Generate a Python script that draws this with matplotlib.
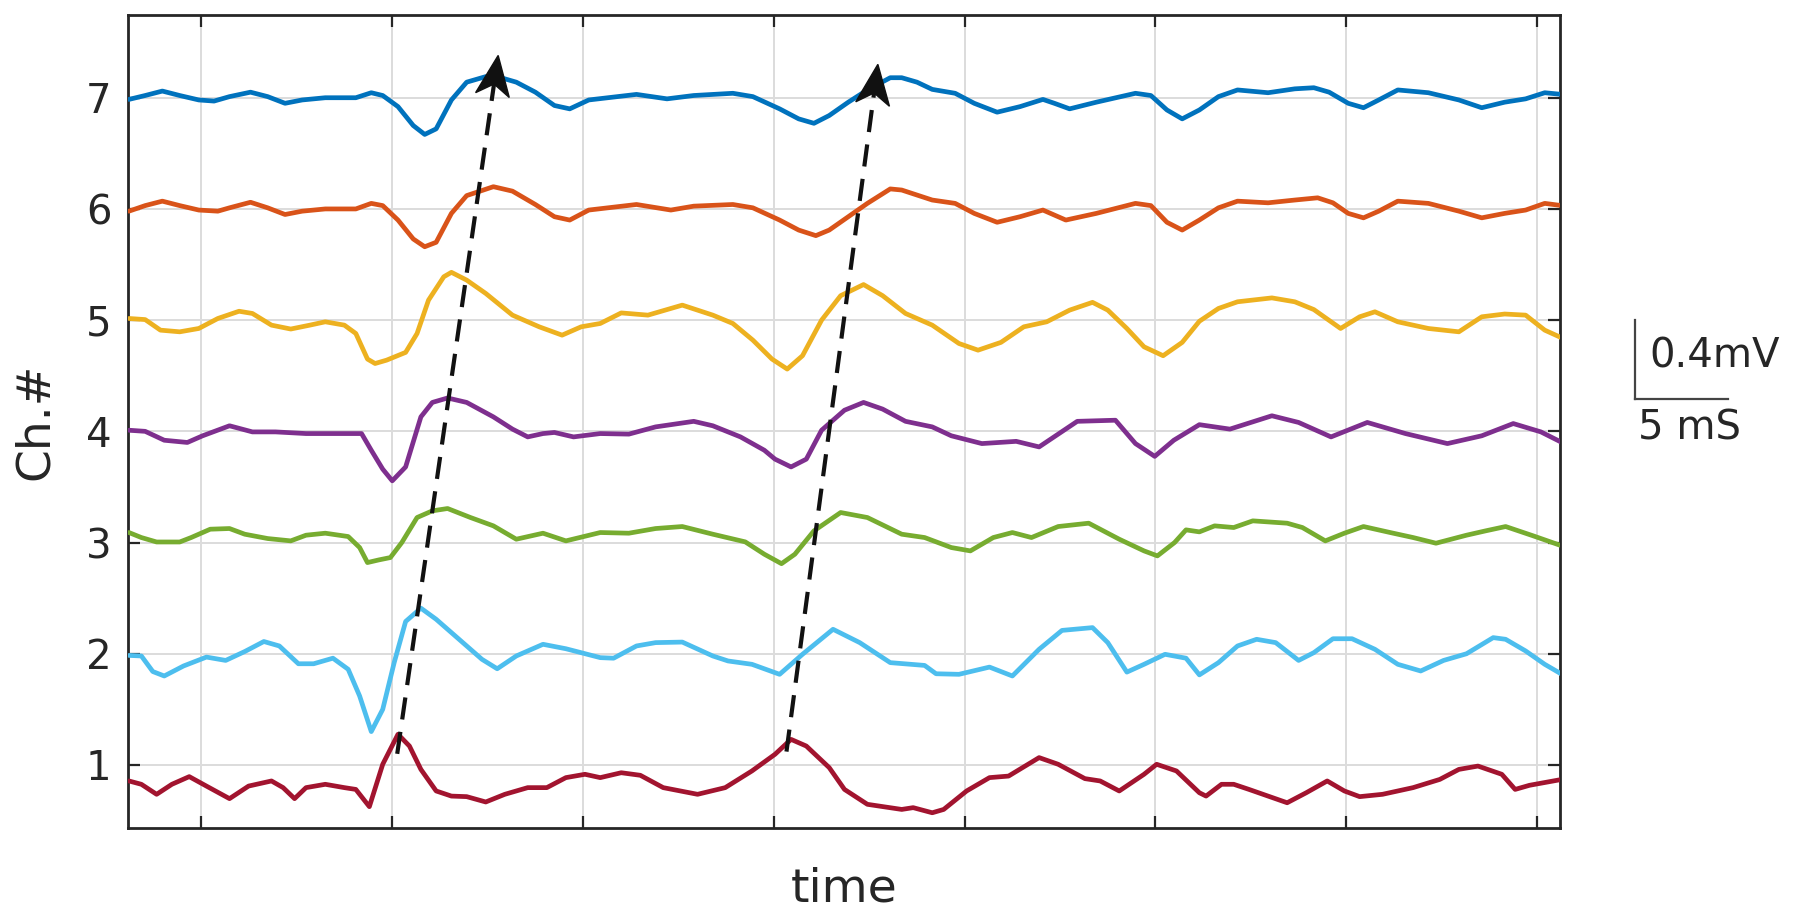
import numpy as np
import matplotlib
matplotlib.use("Agg")
import matplotlib.pyplot as plt
from matplotlib.patches import Polygon
from matplotlib.transforms import IdentityTransform
from matplotlib.lines import Line2D

plt.rcParams['font.family'] = ['DejaVu Sans']
plt.rcParams['lines.scale_dashes'] = False

# ---------------- data (time in ms, value = channel offset + signal) ----------------
channels = [1, 2, 3, 4, 5, 6, 7]
colors = ['#A2142F', '#4DBEEE', '#77AC30', '#7E2F8E', '#EDB120', '#D95319', '#0072BD']

ch7 = [(-3.8,6.985),(-2.95,7.02),(-2.05,7.06),(-1.14,7.02),(-0.14,6.98),(0.66,6.97),(1.47,7.01),(2.57,7.05),
       (3.47,7.01),(4.38,6.95),(5.28,6.98),(6.49,7.0),(8.09,7.0),(8.9,7.045),(9.5,7.02),(10.3,6.92),(11.1,6.75),
       (11.7,6.67),(12.3,6.72),(13.1,6.98),(13.9,7.14),(14.9,7.19),(15.7,7.18),(16.5,7.14),(17.5,7.05),(18.5,6.93),
       (19.3,6.90),(20.3,6.98),(22.8,7.03),(24.4,6.99),(25.8,7.02),(27.85,7.04),(28.9,7.01),(30.3,6.90),(31.3,6.81),
       (32.1,6.77),(32.9,6.84),(33.9,6.96),(34.9,7.07),(36.1,7.18),(36.7,7.18),(37.5,7.14),(38.3,7.075),(39.5,7.04),
       (40.5,6.95),(41.7,6.87),(42.9,6.92),(44.1,6.985),(44.7,6.95),(45.5,6.90),(46.9,6.96),(48.95,7.04),(49.76,7.02),
       (50.6,6.89),(51.4,6.81),(52.3,6.89),(53.3,7.01),(54.3,7.07),(55.9,7.045),(57.3,7.08),(58.3,7.09),(59.1,7.05),
       (60.1,6.95),(60.9,6.91),(61.7,6.98),(62.7,7.07),(64.3,7.045),(65.9,6.98),(67.1,6.91),(68.3,6.96),(69.4,6.99),
       (70.4,7.045),(71.3,7.03)]

ch6 = [(-3.8,5.98),(-2.95,6.03),(-2.05,6.07),(-1.14,6.03),(-0.14,5.99),(0.86,5.98),(1.47,6.01),(2.57,6.06),(3.47,6.01),
       (4.38,5.95),(5.28,5.98),(6.49,6.0),(8.09,6.0),(8.9,6.05),(9.5,6.03),(10.3,5.90),(11.1,5.73),(11.7,5.66),(12.3,5.70),
       (13.1,5.96),(13.9,6.12),(15.3,6.20),(16.3,6.16),(17.5,6.04),(18.5,5.93),(19.3,5.90),(20.3,5.99),(22.8,6.04),
       (24.6,5.99),(25.8,6.025),(27.85,6.04),(28.9,6.01),(30.3,5.90),(31.3,5.81),(32.2,5.76),(32.9,5.81),(33.9,5.93),
       (34.9,6.05),(36.1,6.18),(36.7,6.17),(38.3,6.08),(39.5,6.05),(40.5,5.96),(41.7,5.88),(42.9,5.93),(44.1,5.99),
       (45.3,5.90),(46.9,5.96),(48.95,6.05),(49.76,6.03),(50.6,5.88),(51.4,5.81),(52.3,5.90),(53.3,6.01),(54.3,6.07),
       (55.9,6.055),(57.3,6.08),(58.5,6.10),(59.3,6.055),(60.1,5.96),(60.9,5.92),(61.7,5.98),(62.7,6.07),(64.3,6.05),
       (65.9,5.98),(67.1,5.92),(68.3,5.96),(69.4,5.99),(70.4,6.05),(71.3,6.03)]

ch5 = [(-3.8,5.015),(-2.95,5.005),(-2.15,4.91),(-1.14,4.895),(-0.14,4.925),(0.86,5.015),(1.97,5.08),(2.67,5.06),
       (3.67,4.955),(4.68,4.92),(5.68,4.955),(6.49,4.985),(7.49,4.955),(8.09,4.88),(8.7,4.65),(9.1,4.61),(9.7,4.64),
       (10.7,4.71),(11.3,4.88),(11.9,5.18),(12.7,5.39),(13.1,5.43),(13.9,5.36),(14.9,5.24),(16.3,5.045),(17.7,4.94),
       (18.9,4.865),(19.9,4.94),(20.9,4.97),(22.0,5.065),(23.4,5.045),(25.2,5.135),(26.8,5.045),(27.85,4.97),(28.9,4.82),
       (29.9,4.65),(30.7,4.56),(31.5,4.68),(32.5,5.00),(33.5,5.22),(34.7,5.32),(35.7,5.22),(36.9,5.06),(38.3,4.955),
       (39.7,4.79),(40.7,4.73),(41.9,4.80),(43.1,4.94),(44.3,4.985),(45.5,5.09),(46.7,5.16),(47.5,5.09),(48.5,4.925),
       (49.4,4.76),(50.4,4.68),(51.4,4.80),(52.3,4.99),(53.3,5.105),(54.3,5.165),(56.1,5.20),(57.3,5.165),(58.3,5.095),
       (59.7,4.925),(60.7,5.03),(61.5,5.075),(62.7,4.985),(64.3,4.925),(65.9,4.895),(67.1,5.03),(68.3,5.055),
       (69.4,5.045),(70.4,4.91),(71.3,4.84)]

ch4 = [(-3.8,4.01),(-2.95,4.00),(-1.95,3.92),(-0.74,3.90),(0.06,3.96),(1.47,4.05),(2.67,3.995),(3.88,3.995),(5.48,3.98),
       (7.49,3.98),(8.39,3.98),(8.9,3.83),(9.5,3.66),(10.0,3.555),(10.7,3.68),(11.5,4.13),(12.1,4.26),(12.9,4.30),
       (13.9,4.26),(15.3,4.13),(16.3,4.02),(17.1,3.95),(17.9,3.98),(18.5,3.99),(19.5,3.95),(20.9,3.98),(22.4,3.975),
       (23.8,4.04),(25.8,4.09),(26.8,4.05),(28.25,3.95),(29.5,3.83),(30.06,3.75),(30.9,3.68),(31.7,3.75),(32.5,4.01),
       (33.7,4.19),(34.7,4.26),(35.7,4.20),(36.9,4.09),(38.3,4.04),(39.3,3.96),(40.9,3.89),(42.7,3.91),(43.9,3.86),
       (45.9,4.09),(47.9,4.10),(48.95,3.89),(49.96,3.775),(50.96,3.92),(52.3,4.06),(53.9,4.02),(56.1,4.14),(57.5,4.08),
       (59.2,3.95),(61.1,4.08),(63.1,3.98),(65.3,3.89),(67.1,3.96),(68.75,4.07),(70.2,3.995),(71.3,3.90)]

ch3 = [(-3.8,3.09),(-3.15,3.045),(-2.35,3.005),(-1.14,3.005),(-0.54,3.045),(0.46,3.12),(1.47,3.126),(2.27,3.075),
       (3.47,3.036),(4.68,3.015),(5.48,3.066),(6.49,3.084),(7.69,3.054),(8.29,2.955),(8.7,2.82),(9.3,2.844),(9.9,2.865),
       (10.5,3.00),(11.3,3.225),(12.1,3.285),(12.9,3.306),(14.1,3.225),(15.3,3.15),(16.5,3.03),(17.9,3.084),(19.1,3.015),
       (20.9,3.09),(22.4,3.084),(23.8,3.126),(25.2,3.144),(26.8,3.075),(28.5,3.006),(29.5,2.895),(30.4,2.81),(31.1,2.895),
       (32.1,3.105),(33.5,3.27),(34.9,3.225),(36.7,3.075),(37.9,3.045),(39.3,2.955),(40.3,2.925),(41.5,3.045),(42.5,3.09),
       (43.5,3.045),(44.9,3.144),(46.5,3.174),(48.1,3.03),(49.4,2.925),(50.1,2.88),(51.0,3.00),(51.6,3.114),(52.3,3.096),
       (53.1,3.15),(54.1,3.135),(55.1,3.195),(56.9,3.174),(57.7,3.135),(58.9,3.015),(59.9,3.084),(60.9,3.144),(62.3,3.09),
       (63.5,3.045),(64.7,2.994),(66.3,3.066),(67.3,3.105),(68.35,3.144),(69.8,3.06),(71.2,2.976)]

ch2 = [(-3.8,1.985),(-3.15,1.98),(-2.55,1.84),(-1.95,1.80),(-0.94,1.89),(0.26,1.97),(1.27,1.94),(2.27,2.02),(3.27,2.11),
       (4.08,2.07),(5.08,1.91),(5.88,1.91),(6.89,1.96),(7.69,1.86),(8.29,1.62),(8.9,1.30),(9.5,1.50),(10.1,1.92),
       (10.7,2.29),(11.5,2.41),(12.3,2.31),(13.5,2.13),(14.7,1.95),(15.5,1.865),(16.5,1.98),(17.9,2.085),(19.1,2.045),
       (20.9,1.965),(21.6,1.96),(22.8,2.07),(23.8,2.10),(25.2,2.105),(26.8,1.98),(27.6,1.935),(28.85,1.905),(30.3,1.815),
       (31.5,1.995),(33.1,2.22),(34.5,2.10),(36.1,1.92),(37.9,1.895),(38.5,1.82),(39.7,1.815),(41.3,1.88),(42.5,1.80),
       (43.9,2.04),(45.1,2.21),(46.7,2.235),(47.5,2.10),(48.5,1.835),(49.4,1.905),(50.5,1.995),(51.6,1.96),(52.3,1.81),
       (53.3,1.92),(54.3,2.07),(55.3,2.13),(56.3,2.10),(57.5,1.94),(58.3,2.01),(59.3,2.135),(60.3,2.135),(61.5,2.04),
       (62.7,1.905),(63.9,1.845),(65.1,1.94),(66.3,2.00),(67.7,2.145),(68.35,2.13),(69.4,2.025),(70.4,1.905),(71.3,1.815)]

ch1 = [(-3.8,0.856),(-3.15,0.826),(-2.35,0.736),(-1.55,0.826),(-0.64,0.895),(0.26,0.81),(1.47,0.697),(2.47,0.81),
       (3.67,0.856),(4.28,0.796),(4.88,0.697),(5.48,0.796),(6.49,0.826),(7.49,0.796),(8.09,0.78),(8.8,0.625),(9.5,1.006),
       (10.3,1.276),(10.9,1.17),(11.5,0.96),(12.3,0.766),(13.1,0.72),(13.9,0.715),(14.9,0.667),(15.9,0.736),(17.1,0.796),
       (18.1,0.796),(19.1,0.886),(20.1,0.916),(20.9,0.886),(22.0,0.93),(23.0,0.907),(24.2,0.796),(26.0,0.736),(27.45,0.796),
       (28.85,0.946),(30.06,1.096),(30.9,1.23),(31.7,1.17),(32.9,0.976),(33.7,0.78),(34.9,0.646),(36.7,0.60),(37.3,0.616),
       (38.3,0.57),(38.9,0.60),(40.1,0.766),(41.3,0.886),(42.3,0.90),(43.9,1.066),(44.9,1.006),(46.3,0.877),(47.1,0.856),
       (48.1,0.766),(49.4,0.916),(50.06,1.006),(51.1,0.946),(52.3,0.75),(52.65,0.72),(53.46,0.826),(54.1,0.826),
       (54.9,0.78),(56.9,0.66),(57.9,0.75),(59.0,0.856),(59.9,0.766),(60.7,0.715),(61.9,0.736),(63.5,0.796),(64.9,0.87),
       (65.9,0.96),(66.9,0.99),(68.15,0.916),(68.85,0.78),(69.6,0.817),(71.3,0.87)]

traces = [ch1, ch2, ch3, ch4, ch5, ch6, ch7]

# propagation arrows: (start_t, start_ch, tip_t, tip_ch)
arrows = [(10.26, 1.10, 15.55, 7.38), (30.66, 1.12, 35.45, 7.30)]

xticks = [0, 10, 20, 30, 40, 50, 60, 70]

# ---------------- figure ----------------
W, H, DPI = 1800, 916, 100
fig = plt.figure(figsize=(W / DPI, H / DPI), dpi=DPI, facecolor='white')
ax = fig.add_axes([128 / W, 1 - 828 / H, (1560 - 128) / W, (828 - 15) / H])

for tr, c in zip(traces, colors):
    arr = np.array(tr)
    ax.plot(arr[:, 0], arr[:, 1], color=c, lw=3.4, solid_joinstyle='round',
            solid_capstyle='round', zorder=3)

ax.set_xlim(-3.85, 71.2)
ax.set_ylim(0.433, 7.744)
ax.set_xticks(xticks)
ax.set_yticks(channels)
ax.set_yticklabels([str(c) for c in channels])
ax.grid(True, color='#dcdcdc', lw=1.4)
ax.set_axisbelow(True)
axc = '#262626'
ax.tick_params(direction='in', length=8.5, width=1.6, colors=axc, labelsize=29,
               pad=12, top=True, right=True)
ax.tick_params(axis='x', labelbottom=False)
for s in ax.spines.values():
    s.set_color(axc)
    s.set_linewidth(2.0)

ax.set_xlabel('time', fontsize=34, color=axc)
ax.xaxis.set_label_coords(0.5, -0.0898)
ax.xaxis.label.set_va('baseline')
ax.set_ylabel('Ch.#', fontsize=34, color=axc)
ax.yaxis.set_label_coords((35 - 128) / 1432, 0.5)
ax.yaxis.label.set_va('center')

# dashed arrows with notched heads
L, HW, NOTCH = 40.0, 17.0, 0.72
for (x0, y0, x1, y1) in arrows:
    p0 = ax.transData.transform((x0, y0))
    p1 = ax.transData.transform((x1, y1))
    u = (p1 - p0) / np.hypot(*(p1 - p0))
    n = np.array([-u[1], u[0]])
    back = p1 - L * u
    notch = p1 - NOTCH * L * u
    head = [p1, back + HW * n, notch, back - HW * n]
    nd = ax.transData.inverted().transform(notch)
    ax.plot([x0, nd[0]], [y0, nd[1]], color='#111111', lw=3.0, dashes=[16, 9],
            dash_capstyle='butt', zorder=5)
    ax.add_patch(Polygon(head, closed=True, transform=IdentityTransform(),
                         facecolor='#111111', edgecolor='#111111', lw=1, zorder=6))

# scale bar (outside axes)
sb = '#444444'
fig.add_artist(Line2D([1635 / W, 1635 / W], [1 - 320 / H, 1 - 399 / H], color=sb, lw=1.6,
                      transform=fig.transFigure))
fig.add_artist(Line2D([1635 / W, 1728 / W], [1 - 399 / H, 1 - 399 / H], color=sb, lw=1.6,
                      transform=fig.transFigure))
fig.text(1649 / W, 1 - 357 / H, '0.4mV', fontsize=29, color=axc, ha='left', va='center')
fig.text(1638 / W, 1 - 428 / H, '5 mS', fontsize=29, color=axc, ha='left', va='center')

fig.savefig('out.png', dpi=DPI, facecolor='white')
